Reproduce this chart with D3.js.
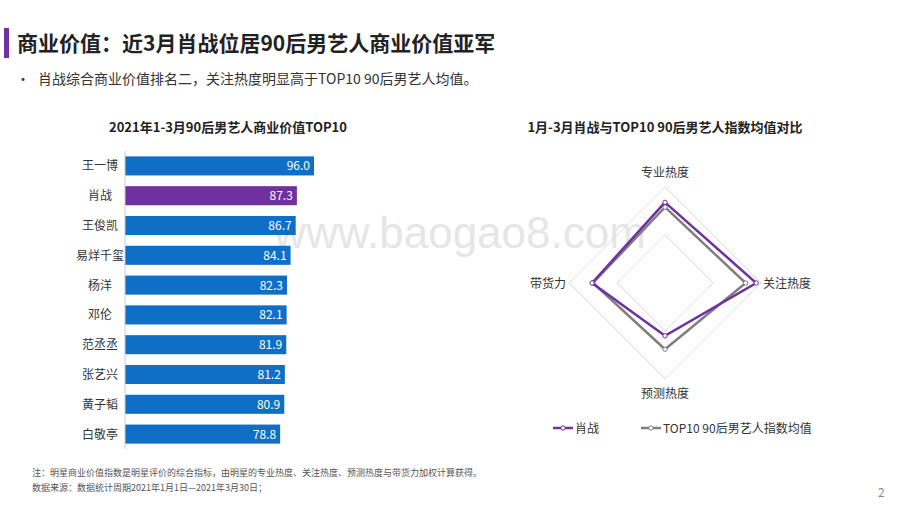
<!DOCTYPE html><html><head><meta charset="utf-8"><script src="https://cdn.jsdelivr.net/npm/d3@7"></script>
<style>body{margin:0;background:#fff}svg{font-family:"Microsoft YaHei","Noto Sans CJK SC",sans-serif}</style></head><body><svg id="c" width="920" height="518"></svg><script>
const names=["王一博","肖战","王俊凯","易烊千玺","杨洋","邓伦","范丞丞","张艺兴","黄子韬","白敬亭"];
const values=[96.0,87.3,86.7,84.1,82.3,82.1,81.9,81.2,80.9,78.8];
const axes=["专业热度","关注热度","预测热度","带货力"];
const xiaoZhan=[84,95,55,76];
const top10Avg=[79,84,69,75];
const svg=d3.select("#c");
svg.append("rect").attr("x",4).attr("y",28).attr("width",5).attr("height",30).attr("fill","#7030a0");
svg.append("text").attr("x",17).attr("y",51).attr("font-size",21).attr("font-weight","bold").attr("fill","#222").text("商业价值：近3月肖战位居90后男艺人商业价值亚军");
svg.append("text").attr("x",16).attr("y",84).attr("font-size",14).attr("fill","#333").text("•");
svg.append("text").attr("x",38).attr("y",84).attr("font-size",14).attr("fill","#333").text("肖战综合商业价值排名二，关注热度明显高于TOP10  90后男艺人均值。");
svg.append("text").attr("x",460).attr("y",248).attr("font-size",44).attr("fill","#e6e6e6").attr("text-anchor","middle").attr("font-family","Arial,sans-serif").text("www.baogao8.com");
svg.append("text").attr("x",228).attr("y",132).attr("font-size",13).attr("font-weight","bold").attr("text-anchor","middle").attr("fill","#222").text("2021年1-3月90后男艺人商业价值TOP10");
const x=d3.scaleLinear().domain([0,96]).range([125,314]);
const y=d3.scaleBand().domain(names).range([151,449]).paddingInner(0.36).paddingOuter(0.18);
const g=svg.append("g");
names.forEach((n,i)=>{
 g.append("rect").attr("x",x(0)).attr("y",y(n)).attr("width",x(values[i])-x(0)).attr("height",y.bandwidth()).attr("fill",n==="肖战"?"#7030a0":"#0f6fc6");
 g.append("text").attr("x",x(values[i])-4).attr("y",y(n)+y.bandwidth()/2+4.5).attr("font-size",12).attr("fill","#fff").attr("text-anchor","end").text(values[i].toFixed(1));
 g.append("text").attr("x",100).attr("y",y(n)+y.bandwidth()/2+4.5).attr("font-size",12).attr("fill","#333").attr("text-anchor","middle").text(n);
});
svg.append("line").attr("x1",x(0)).attr("x2",x(0)).attr("y1",151).attr("y2",449).attr("stroke","#ccc");
svg.append("text").attr("x",665).attr("y",132).attr("font-size",13).attr("font-weight","bold").attr("text-anchor","middle").attr("fill","#222").text("1月-3月肖战与TOP10 90后男艺人指数均值对比");
const cx=665,cy=283,r=d3.scaleLinear().domain([0,100]).range([0,96]);
const ang=i=>i*Math.PI/2;
const pt=(i,v)=>[cx+r(v)*Math.sin(ang(i)),cy-r(v)*Math.cos(ang(i))];
[50,100].forEach(v=>svg.append("polygon").attr("points",axes.map((a,i)=>pt(i,v).join(",")).join(" ")).attr("fill","none").attr("stroke","#d9d9d9"));
const lab=[[665,177,"middle"],[763,288,"start"],[665,398,"middle"],[566,288,"end"]];
axes.forEach((a,i)=>svg.append("text").attr("x",lab[i][0]).attr("y",lab[i][1]).attr("text-anchor",lab[i][2]).attr("font-size",12).attr("fill","#333").text(a));
function series(d,c){svg.append("polygon").attr("points",d.map((v,i)=>pt(i,v).join(",")).join(" ")).attr("fill","none").attr("stroke",c).attr("stroke-width",2.5);
 d.forEach((v,i)=>svg.append("circle").attr("cx",pt(i,v)[0]).attr("cy",pt(i,v)[1]).attr("r",2.2).attr("fill","#fff").attr("stroke",c).attr("stroke-width",1));}
series(top10Avg,"#7f7f7f");series(xiaoZhan,"#7030a0");
[[553,"#7030a0","肖战"],[641,"#7f7f7f","TOP10 90后男艺人指数均值"]].forEach(([lx,c,t])=>{
 svg.append("line").attr("x1",lx).attr("x2",lx+20).attr("y1",428).attr("y2",428).attr("stroke",c).attr("stroke-width",2.5);
 svg.append("circle").attr("cx",lx+10).attr("cy",428).attr("r",2.2).attr("fill","#fff").attr("stroke",c);
 svg.append("text").attr("x",lx+22).attr("y",433).attr("font-size",12).attr("fill","#333").text(t);});
svg.append("text").attr("x",32).attr("y",476).attr("font-size",9).attr("fill","#555").text("注：明星商业价值指数是明星评价的综合指标，由明星的专业热度、关注热度、预测热度与带货力加权计算获得。");
svg.append("text").attr("x",32).attr("y",491).attr("font-size",9).attr("fill","#555").text("数据来源：数据统计周期2021年1月1日—2021年3月30日；");
svg.append("text").attr("x",878).attr("y",497).attr("font-size",12).attr("fill","#888").text("2");
</script></body></html>
